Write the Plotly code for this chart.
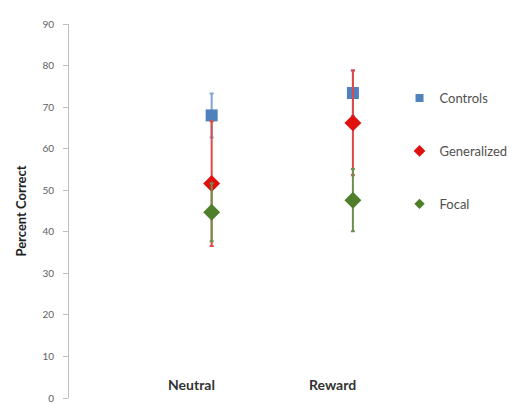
import plotly.graph_objects as go

categories = ["Neutral", "Reward"]
series_names = ["Controls", "Generalized", "Focal"]
controls = [68.0, 73.4]
controls_err = [5.3, 5.5]
generalized = [51.6, 66.2]
generalized_err = [15.0, 12.6]
focal = [44.7, 47.6]
focal_err = [7.0, 7.5]
y_ticks = [0, 10, 20, 30, 40, 50, 60, 70, 80, 90]

values = [controls, generalized, focal]
errors = [controls_err, generalized_err, focal_err]
colors = ["#4F81BD", "#E0100F", "#4F7F2A"]
err_colors = ["#7FA3D3", "#E04848", "#6E8F4E"]
symbols = ["square", "diamond", "diamond"]
sizes = [12, 13, 13]
legend_sizes = [8, 9, 8]

fig = go.Figure()
for name, v, e, c, ec, s, sz in zip(series_names, values, errors, colors, err_colors, symbols, sizes):
    fig.add_trace(go.Scatter(
        x=categories, y=v, mode="markers", name=name, showlegend=False,
        marker=dict(symbol=s, size=sz, color=c, line=dict(width=0)),
        error_y=dict(type="data", array=e, visible=True, color=ec, thickness=2, width=2),
    ))
for name, c, s, lsz in zip(series_names, colors, symbols, legend_sizes):
    fig.add_trace(go.Scatter(
        x=[None], y=[None], mode="markers", name=name, legendgroup=name,
        marker=dict(symbol=s, size=lsz, color=c, line=dict(width=0)),
    ))

fig.update_layout(
    width=530, height=404,
    margin=dict(l=61, r=130, t=16, b=8),
    paper_bgcolor="white", plot_bgcolor="white",
    font=dict(family="Lato, Open Sans, sans-serif", color="#404040"),
    showlegend=True,
    legend=dict(x=0.975, y=0.842, xanchor="left", yanchor="top",
                font=dict(size=13, color="#505050"),
                tracegroupgap=33, itemwidth=30, bgcolor="rgba(0,0,0,0)"),
    xaxis=dict(type="category", range=[-1.01, 1.39], showticklabels=False,
               showline=False, showgrid=False, zeroline=False, ticks=""),
    yaxis=dict(range=[0, 90], tickvals=y_ticks, showgrid=False, zeroline=False,
               showline=True, linecolor="#BFBFBF", linewidth=1,
               ticks="outside", ticklen=5, tickcolor="#BFBFBF",
               ticklabelstandoff=7,
               tickfont=dict(size=10, color="#606060"),
               title=dict(text="<b>Percent Correct</b>", font=dict(size=13, color="#222222"), standoff=12)),
)

for cat in categories:
    fig.add_annotation(x=cat, xref="x", y=0, yref="paper", yanchor="bottom", yshift=3, xshift=-20,
                       text="<b>%s</b>" % cat, showarrow=False,
                       font=dict(size=14, color="#333333"))

fig.write_html("out.html")
